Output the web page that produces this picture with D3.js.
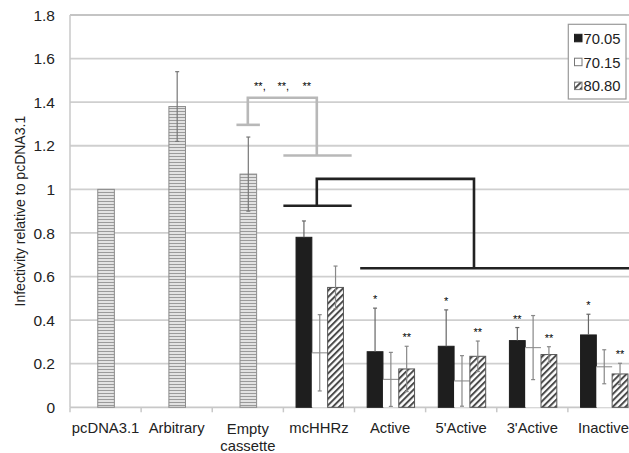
<!DOCTYPE html>
<html><head><meta charset="utf-8">
<script src="https://cdn.jsdelivr.net/npm/d3@7"></script>
<style>body{margin:0;background:#fff}svg{display:block}text{font-family:Arial,"Liberation Sans",Helvetica,sans-serif}</style>
</head><body><svg id="c" width="629" height="453"></svg>
<script>
// ---- data ----
const categories = ["pcDNA3.1","Arbitrary","Empty cassette","mcHHRz","Active","5'Active","3'Active","Inactive"];
const singleCats = ["pcDNA3.1","Arbitrary","Empty cassette"];
const singleValues = [1.0, 1.38, 1.07];
const singleErr = [0, 0.16, 0.17];
const groupCats = ["mcHHRz","Active","5'Active","3'Active","Inactive"];
const seriesNames = ["70.05","70.15","80.80"];
const v7005 = [0.78, 0.255, 0.28, 0.306, 0.332];
const e7005 = [0.075, 0.20, 0.167, 0.06, 0.095];
const v7015 = [0.25, 0.128, 0.121, 0.274, 0.186];
const e7015 = [0.175, 0.124, 0.116, 0.147, 0.078];
const v8080 = [0.55, 0.176, 0.234, 0.242, 0.153];
const e8080 = [0.098, 0.104, 0.07, 0.036, 0.049];
const stars7005 = ["", "*", "*", "**", "*"];
const stars8080 = ["", "**", "**", "**", "**"];
const yTicks = [0,0.2,0.4,0.6,0.8,1,1.2,1.4,1.6,1.8];
const yTitle = "Infectivity relative to pcDNA3.1";
const grayBracketStars = ["**,", "**,", "**"];

// ---- layout ----
const svg = d3.select("#c");
const L = 70, R = 639, T = 15, B = 407.3;
const x = d3.scaleBand().domain(categories).range([L, R]).padding(0);
const y = d3.scaleLinear().domain([0, 1.8]).range([B, T]);
const bw = x.bandwidth();
const bx = u => L + u * bw; // position in category units

const defs = svg.append("defs");
const ps = defs.append("pattern").attr("id","hstripe").attr("patternUnits","userSpaceOnUse").attr("width",4).attr("height",3);
ps.append("rect").attr("width",4).attr("height",3).attr("fill","#e2e2e2");
ps.append("rect").attr("width",4).attr("height",1).attr("fill","#9a9a9a");
const ph = defs.append("pattern").attr("id","hatch").attr("patternUnits","userSpaceOnUse").attr("width",4.5).attr("height",4.5).attr("patternTransform","rotate(45)");
ph.append("rect").attr("width",4.5).attr("height",4.5).attr("fill","#fff");
ph.append("rect").attr("width",2).attr("height",4.5).attr("fill","#4a4a4a");

// gridlines
svg.append("g").selectAll("line").data(yTicks.filter(d=>d>0)).join("line")
  .attr("x1", L).attr("x2", 629).attr("y1", d=>y(d)).attr("y2", d=>y(d))
  .attr("stroke", d=> d===1.8 ? "#8a8a8a" : "#cfcfcf").attr("stroke-width", d=> d===1.8?1.2:1.8);
svg.append("line").attr("x1",L).attr("x2",L).attr("y1",T).attr("y2",B).attr("stroke","#c8c8c8").attr("stroke-width",1.5);
svg.append("line").attr("x1",L).attr("x2",629).attr("y1",B).attr("y2",B).attr("stroke","#c8c8c8").attr("stroke-width",1.8);
svg.append("g").selectAll("line").data(d3.range(categories.length+1)).join("line")
  .attr("x1", d=>bx(d)).attr("x2", d=>bx(d)).attr("y1", B).attr("y2", B+5)
  .attr("stroke","#c8c8c8").attr("stroke-width",1.5);

// y tick labels
svg.append("g").selectAll("text").data(yTicks).join("text")
  .attr("x", 55).attr("y", d=>y(d)).attr("dy","0.36em").attr("text-anchor","end")
  .attr("font-size", 15.5).attr("fill","#222")
  .text(d => (d===0||d===1) ? String(d) : d.toFixed(1));

// y title
svg.append("text").attr("transform",`translate(25,${(T+B)/2}) rotate(-90)`)
  .attr("text-anchor","middle").attr("font-size",14).attr("fill","#222").text(yTitle);

// x labels
categories.forEach(c => {
  const t = svg.append("text").attr("x", x(c)+bw/2).attr("text-anchor","middle").attr("font-size",14.8).attr("fill","#222");
  if (c === "Empty cassette") {
    t.append("tspan").attr("x", x(c)+bw/2).attr("y", 434).text("Empty");
    t.append("tspan").attr("x", x(c)+bw/2).attr("y", 451).text("cassette");
  } else {
    t.attr("y", 433).text(c);
  }
});

function errBar(cx, v, e, color, cap, upperOnly) {
  const g = svg.append("g").attr("stroke", color).attr("stroke-width", 1.2);
  const lo = upperOnly ? v : Math.max(0, v - e);
  g.append("line").attr("x1",cx).attr("x2",cx).attr("y1",y(v+e)).attr("y2",y(lo));
  g.append("line").attr("x1",cx-cap).attr("x2",cx+cap).attr("y1",y(v+e)).attr("y2",y(v+e));
  if (!upperOnly) g.append("line").attr("x1",cx-cap).attr("x2",cx+cap).attr("y1",y(lo)).attr("y2",y(lo));
}

// single bars
const sW = 16.6;
singleCats.forEach((c,i) => {
  const cx = x(c) + bw/2 + 0.5;
  svg.append("rect").attr("x", cx - sW/2).attr("y", y(singleValues[i])).attr("width", sW)
    .attr("height", y(0) - y(singleValues[i])).attr("fill","url(#hstripe)").attr("stroke","#8c8c8c").attr("stroke-width",1);
  if (singleErr[i] > 0) errBar(cx, singleValues[i], singleErr[i], "#777", 2, false);
});

// grouped bars
const gW = 15.8;
const series = [
  {vals: v7005, errs: e7005, fill: "#1e1e1e", stroke: "#1e1e1e", stars: stars7005},
  {vals: v7015, errs: e7015, fill: "#ffffff", stroke: "#777", stars: null},
  {vals: v8080, errs: e8080, fill: "url(#hatch)", stroke: "#555", stars: stars8080}
];
groupCats.forEach((c,gi) => {
  const center = x(c) + bw/2 + 0.8;
  series.forEach((s,si) => {
    const x0 = center + (si - 1.5) * gW;
    const v = s.vals[gi];
    if (si === 1) {
      svg.append("rect").attr("x", x0).attr("y", y(v)).attr("width", gW).attr("height", y(0)-y(v))
        .attr("fill","#fff").attr("stroke","none");
      svg.append("path").attr("d", `M${x0},${y(v)}H${x0+gW}`).attr("stroke","#999").attr("stroke-width",1.2).attr("fill","none");
    } else {
      svg.append("rect").attr("x", x0).attr("y", y(v)).attr("width", gW).attr("height", y(0)-y(v))
        .attr("fill", s.fill).attr("stroke", s.stroke).attr("stroke-width",1);
    }
  });
  series.forEach((s,si) => {
    const cx = center + (si - 1) * gW;
    const v = s.vals[gi], e = s.errs[gi];
    errBar(cx, v, e, si===0 ? "#666" : "#888", 2, si===0);
    if (s.stars && s.stars[gi]) {
      svg.append("text").attr("x", cx).attr("y", y(v+e) - 5).attr("text-anchor","middle")
        .attr("font-size", 11).attr("fill","#000").text(s.stars[gi]);
    }
  });
});

// gray bracket (Empty cassette comparisons)
const gb = svg.append("g").attr("stroke", "#b8b8b8").attr("stroke-width", 2.6).attr("fill","none");
gb.append("line").attr("x1", bx(2.34)).attr("x2", bx(2.67)).attr("y1", y(1.296)).attr("y2", y(1.296));
gb.append("path").attr("d", `M${bx(2.5)},${y(1.296)}V${y(1.42)}H${bx(3.47)}V${y(1.155)}`);
gb.append("line").attr("x1", bx(3.0)).attr("x2", bx(3.96)).attr("y1", y(1.155)).attr("y2", y(1.155));
grayBracketStars.forEach((s,i) => {
  svg.append("text").attr("x", bx(2.67 + i*0.33)).attr("y", y(1.455)).attr("text-anchor","middle")
    .attr("font-size", 11).attr("fill","#000").text(s);
});

// black bracket (mcHHRz comparisons)
const bb = svg.append("g").attr("stroke", "#222").attr("stroke-width", 2.6).attr("fill","none");
bb.append("line").attr("x1", bx(3.0)).attr("x2", bx(3.96)).attr("y1", y(0.925)).attr("y2", y(0.925));
bb.append("path").attr("d", `M${bx(3.47)},${y(0.925)}V${y(1.048)}H${bx(5.68)}V${y(0.638)}`);
bb.append("line").attr("x1", bx(4.08)).attr("x2", 629).attr("y1", y(0.638)).attr("y2", y(0.638));

// legend
const lg = svg.append("g");
lg.append("rect").attr("x",568.3).attr("y",24.3).attr("width",57.7).attr("height",74.7)
  .attr("fill","#fff").attr("stroke","#9a9a9a").attr("stroke-width",1.2);
const legFills = ["#1e1e1e","#fff","url(#hatch)"];
const legStroke = ["#1e1e1e","#777","#777"];
seriesNames.forEach((n,i) => {
  const cy = 38.3 + i*23.9;
  lg.append("rect").attr("x",574.5).attr("y",cy-4).attr("width",7.5).attr("height",7.5)
    .attr("fill",legFills[i]).attr("stroke",legStroke[i]).attr("stroke-width",1);
  lg.append("text").attr("x",583.5).attr("y",cy).attr("dy","0.36em").attr("font-size",14.8).attr("fill","#222").text(n);
});
</script></body></html>
